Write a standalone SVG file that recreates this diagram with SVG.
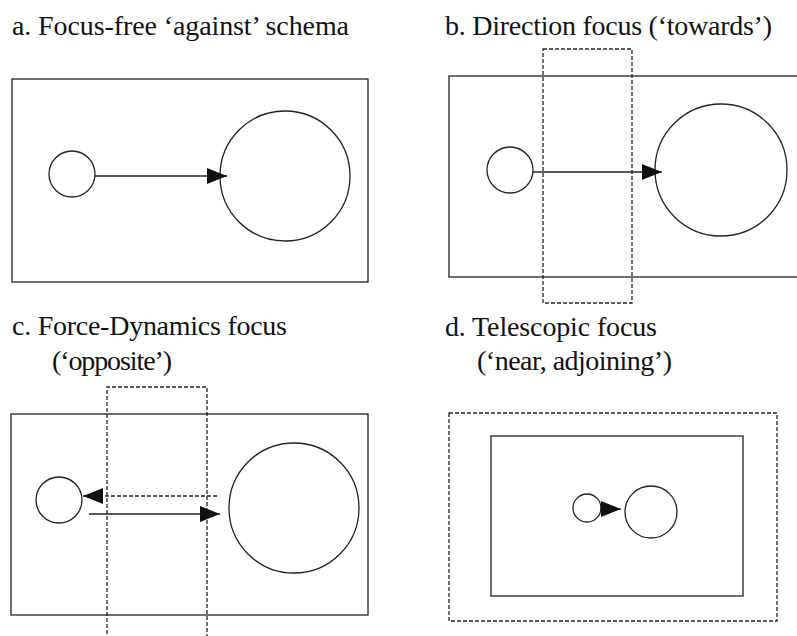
<svg xmlns="http://www.w3.org/2000/svg" width="797" height="636" viewBox="0 0 797 636">
<style>
text{font-family:"Liberation Serif","DejaVu Serif",serif;font-size:28px;fill:#111;}
.box{fill:none;stroke:#222;stroke-width:1.3;}
.dash{fill:none;stroke:#222;stroke-width:1.3;stroke-dasharray:4 2;}
.obj{fill:#fff;stroke:#222;stroke-width:1.3;}
.arr{fill:none;stroke:#222;stroke-width:1.3;marker-end:url(#ah);}
.arrd{fill:none;stroke:#222;stroke-width:1.3;stroke-dasharray:4 2;marker-end:url(#ah);}
</style>
<defs>
<marker id="ah" markerUnits="userSpaceOnUse" markerWidth="20" markerHeight="16" refX="20" refY="8" orient="auto">
<path d="M0,0 L20,8 L0,16 z" fill="#111"/>
</marker>
</defs>
<rect width="797" height="636" fill="#fff"/>

<g id="panel-a">
<text x="12" y="35" textLength="337" lengthAdjust="spacing">a. Focus-free ‘against’ schema</text>
<rect class="box" x="12" y="79" width="356" height="203"/>
<circle id="a-small" class="obj" cx="72" cy="174" r="23"/>
<circle id="a-big" class="obj" cx="285" cy="176" r="65"/>
</g>

<g id="panel-b">
<text x="445" y="35" textLength="327" lengthAdjust="spacing">b. Direction focus (‘towards’)</text>
<rect class="box" x="449" y="76" width="360" height="201"/>
<rect class="dash" x="543" y="49" width="89" height="254"/>
<circle id="b-small" class="obj" cx="510" cy="170" r="23"/>
<circle id="b-big" class="obj" cx="721" cy="170" r="66"/>
</g>

<g id="panel-c">
<text x="12" y="335" textLength="275" lengthAdjust="spacing">c. Force-Dynamics focus</text>
<text x="52" y="370" textLength="120" lengthAdjust="spacing">(‘opposite’)</text>
<rect class="box" x="11" y="414" width="357" height="201"/>
<path class="dash" d="M107,640 V387 H207 V640"/>
<circle id="c-small" class="obj" cx="59" cy="500" r="23"/>
<circle id="c-big" class="obj" cx="294" cy="508" r="65"/>
</g>

<g id="panel-d">
<text x="445" y="336" textLength="212" lengthAdjust="spacing">d. Telescopic focus</text>
<text x="477" y="370" textLength="195" lengthAdjust="spacing">(‘near, adjoining’)</text>
<rect class="dash" x="449" y="413" width="328" height="208"/>
<rect class="box" x="491" y="436" width="252" height="160"/>
<circle id="d-small" class="obj" cx="587" cy="508" r="14"/>
<circle id="d-big" class="obj" cx="651" cy="512" r="26"/>
</g>

<g id="connectors">
<line class="arr" x1="95" y1="176" x2="227" y2="176"/>
<line class="arr" x1="533" y1="172" x2="662" y2="172"/>
<line class="arrd" x1="217" y1="496" x2="83" y2="496"/>
<line class="arr" x1="89" y1="514" x2="220" y2="514"/>
<line class="arr" x1="600" y1="509" x2="621" y2="509"/>
</g>
</svg>
